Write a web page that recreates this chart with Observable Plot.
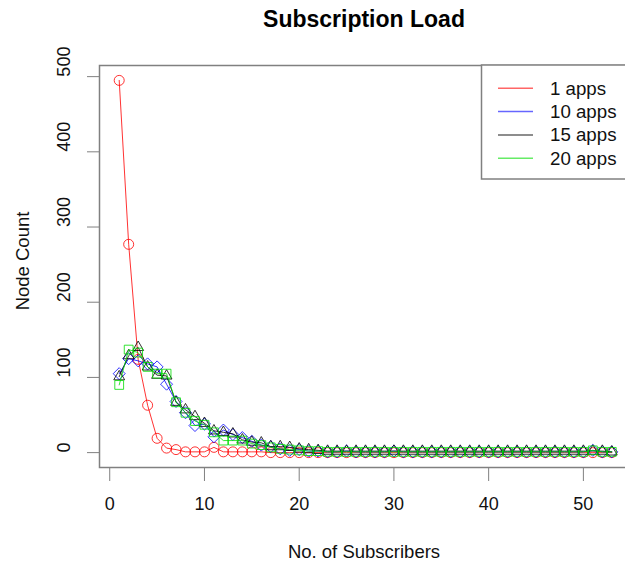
<!DOCTYPE html>
<html><head><meta charset="utf-8">
<script src="https://cdn.jsdelivr.net/npm/d3@7"></script>
<script src="https://cdn.jsdelivr.net/npm/@observablehq/plot@0.6"></script>
<style>
html,body{margin:0;padding:0;background:#fff;overflow:hidden;}
#chart{position:relative;width:625px;height:563px;overflow:hidden;}
#chart svg{max-width:none !important;width:631px !important;height:563px !important;display:block;}
</style>
</head><body><div id="chart"></div>
<script>
const subscribers = [1,2,3,4,5,6,7,8,9,10,11,12,13,14,15,16,17,18,19,20,21,22,23,24,25,26,27,28,29,30,31,32,33,34,35,36,37,38,39,40,41,42,43,44,45,46,47,48,49,50,51,52,53];
const apps1  = [495,277,124,63,19,6,4,1,1,1, 7,1,1,1,1,1,0,0,0,0, 0,0,0,0,0,0,0,0,0,0, 0,0,0,0,0,0,0,0,0,0, 0,0,0,0,0,0,0,0,0,0, 0,0,0];
const apps10 = [105,125,122,118,114,91,68,53,36,38, 21,30,24,20,15,10,8,5,3,4, 2,2,1,1,2,1,1,1,1,2, 1,1,1,1,1,1,1,1,1,1, 1,1,1,1,1,1,1,1,1,1, 3,1,1];
const apps15 = [101,129,140,114,103,102,67,57,48,39, 29,27,25,17,14,13,8,8,7,5, 4,3,2,2,2,2,2,2,2,2, 2,2,2,2,2,2,2,2,2,2, 2,2,2,2,2,2,2,2,2,2, 2,2,1];
const apps20 = [90,137,133,114,105,105,67,53,42,37, 27,16,16,16,12,10,7,5,4,3, 2,2,1,1,1,1,1,1,1,1, 1,1,1,1,1,1,1,1,1,1, 1,1,1,1,1,1,1,1,1,1, 3,1,1];
const seriesNames = ["1 apps","10 apps","15 apps","20 apps"];
const seriesColors = ["#ff0000","#0000ff","#000000","#00dd00"];
const seriesSymbols = ["circle","diamond2","triangle2","square2"];
const seriesRadius = [5,5.4,5.2,5.6];
const xTicks = [0,10,20,30,40,50];
const yTicks = [0,100,200,300,400,500];
const titleText = "Subscription Load";
const xLabel = "No. of Subscribers";
const yLabel = "Node Count";

const seriesValues = [apps1, apps10, apps15, apps20];
const seriesData = seriesNames.map((name, i) =>
  subscribers.map((x, j) => ({x, y: seriesValues[i][j], series: name})));

const FONT = "'Liberation Sans', Arial, Helvetica, sans-serif";
const GRAY = "#808080";

const marks = [];
seriesData.forEach((data, i) => {
  marks.push(Plot.line(data, {x: "x", y: "y", stroke: seriesColors[i], strokeWidth: 1, strokeOpacity: 0.8}));
  marks.push(Plot.dot(data, {x: "x", y: "y", stroke: seriesColors[i], fill: "none",
    symbol: seriesSymbols[i], r: seriesRadius[i], strokeWidth: 1, strokeOpacity: 0.8}));
});

const svg = Plot.plot({
  width: 631, height: 563,
  marginLeft: 99, marginRight: 0, marginTop: 65, marginBottom: 96,
  style: {fontFamily: FONT, fontSize: "18px", color: "#111", background: "#fff", maxWidth: "none"},
  x: {domain: [-1.08, 55.08]},
  y: {domain: [-19.8, 514.8]},
  marks: [
    ...marks,
    Plot.frame({stroke: GRAY, strokeWidth: 1.5}),
    Plot.axisX(xTicks, {tickSize: 14, tickPadding: 16, fontSize: 18, stroke: GRAY, label: null}),
    Plot.axisY(yTicks, {tickSize: 12, tickFormat: () => "", stroke: GRAY, label: null}),
    Plot.text(yTicks, {y: d => d, text: d => String(d), frameAnchor: "left", dx: -35, rotate: -90, fontSize: 18, fill: "#111"})
  ]
});

const s = d3.select(svg);
s.append("text").attr("x", 364).attr("y", 26.7).attr("text-anchor", "middle")
  .attr("font-family", FONT).attr("font-size", 23).attr("font-weight", "bold").attr("fill", "#000").text(titleText);
s.append("text").attr("x", 364).attr("y", 558).attr("text-anchor", "middle")
  .attr("font-family", FONT).attr("font-size", 18.5).attr("fill", "#111").text(xLabel);
s.append("text").attr("transform", "translate(29,261) rotate(-90)").attr("text-anchor", "middle")
  .attr("font-family", FONT).attr("font-size", 18.5).attr("fill", "#111").text(yLabel);

// legend
const lg = s.append("g");
lg.append("rect").attr("x", 481.5).attr("y", 65).attr("width", 200).attr("height", 114)
  .attr("fill", "#fff").attr("stroke", GRAY).attr("stroke-width", 1.5);
const rowY = [88.3, 111.6, 134.9, 158.2];
seriesNames.forEach((name, i) => {
  lg.append("line").attr("x1", 498).attr("x2", 533).attr("y1", rowY[i]).attr("y2", rowY[i])
    .attr("stroke", seriesColors[i]).attr("stroke-width", 1.5).attr("stroke-opacity", 0.6);
  lg.append("text").attr("x", 550).attr("y", rowY[i] + 6.5).attr("text-anchor", "start")
    .attr("font-family", FONT).attr("font-size", 18.7).attr("fill", "#111").text(name);
});

document.getElementById("chart").appendChild(svg);
</script>
</body></html>
